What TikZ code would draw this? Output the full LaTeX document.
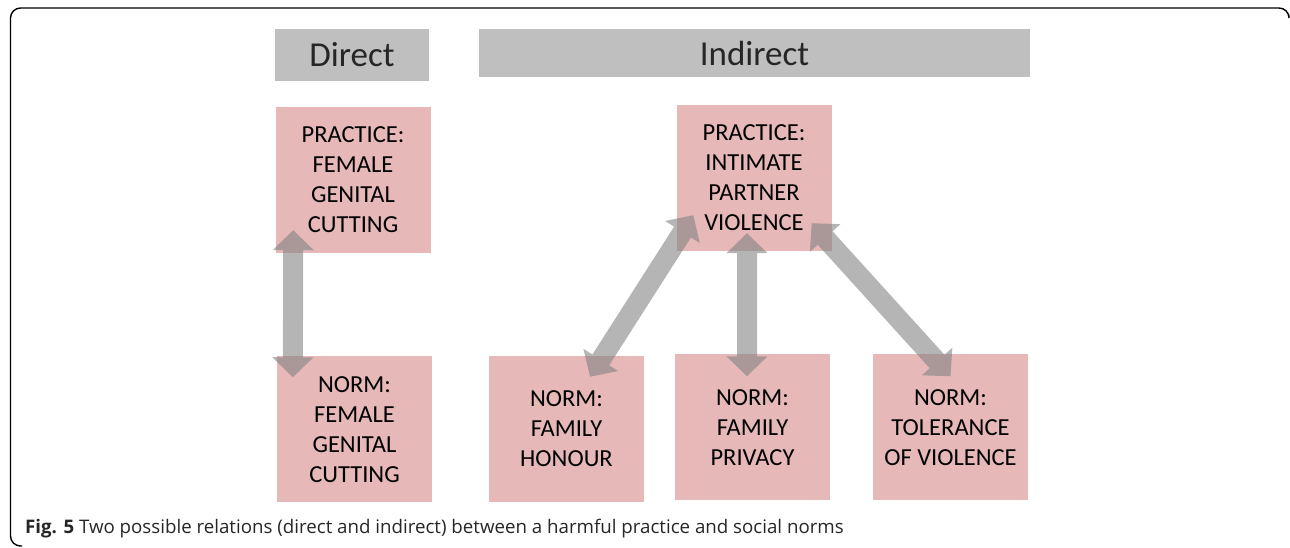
\documentclass[tikz,border=0pt]{standalone}
\usepackage{fontspec}
\setmainfont{Carlito}
\newfontfamily\capfont{Open Sans}
\usetikzlibrary{arrows.meta}

\definecolor{box pink}{HTML}{E6B9B8}
\definecolor{head gray}{HTML}{BFBFBF}
\colorlet{link gray}{gray}
\def\boxfont{\fontsize{24.5}{30}\selectfont}
\def\headfont{\fontsize{35}{40}\selectfont}
\tikzset{header/.style={fill=head gray, text=black!85, inner sep=0pt, font=\headfont},
    normbox/.style={fill=box pink, inner sep=0pt, align=center, font=\boxfont,
        minimum width=155pt, minimum height=146pt},
    link/.style={draw=link gray, line width=20pt,
        {Triangle[width=40pt,length=20pt]}-{Triangle[width=40pt,length=20pt]}}}

\begin{document}
\begin{tikzpicture}[x=1pt,y=1pt]
    \useasboundingbox (0,0) rectangle (1290,548);
    % frame
    \draw[line width=1.4pt, rounded corners=10pt] (22,2) -- (10.5,2) -- (10.5,540) -- (1289,540) -- (1289,533);

    % headers
    \node[header, minimum width=154pt, minimum height=52pt] (hdir) at (352,493) {Direct};
    \node[header, minimum width=551pt, minimum height=48pt] (hind) at (754.5,495) {Indirect};

    % boxes
    \node[normbox] (pfgc) at (353,368) {PRACTICE:\\FEMALE\\GENITAL\\CUTTING};
    \node[normbox] (nfgc) at (354.5,118.5) {NORM:\\FEMALE\\GENITAL\\CUTTING};
    \node[normbox] (pipv) at (754,370) {PRACTICE:\\INTIMATE\\PARTNER\\VIOLENCE};
    \node[normbox] (nhon) at (566.5,119) {NORM:\\FAMILY\\HONOUR};
    \node[normbox] (npri) at (752.5,120.5) {NORM:\\FAMILY\\PRIVACY};
    \node[normbox] (ntol) at (950.5,120.5) {NORM:\\TOLERANCE\\OF VIOLENCE};

    % link ends
    \coordinate (pfgc-in) at ([shift={(18,23)}]pfgc.south west);
    \coordinate (nfgc-in) at ([shift={(16,-21)}]nfgc.north west);
    \coordinate (pipv-l) at ([shift={(17,36)}]pipv.south west);
    \coordinate (pipv-m) at ([shift={(-7,18)}]pipv.south);
    \coordinate (pipv-r) at ([shift={(-20,28)}]pipv.south east);
    \coordinate (nhon-in) at ([shift={(23.5,-21)}]nhon.north);
    \coordinate (npri-in) at ([shift={(-5.5,-22)}]npri.north);
    \coordinate (ntol-in) at ([shift={(0,-22)}]ntol.north);

    % links
    \foreach \from/\to in {pfgc-in/nfgc-in, pipv-l/nhon-in, pipv-m/npri-in, pipv-r/ntol-in}
    {
        \begin{scope}[transparency group, opacity=0.58]
            \draw[link] (\from) -- (\to);
        \end{scope}
    }

    % caption
    \node[anchor=base west, inner sep=0pt, text=black!85] (caption) at (25,14)
        {\capfont\fontsize{18.7}{21}\selectfont\textbf{Fig. 5} Two possible relations (direct and indirect) between a harmful practice and social norms};
\end{tikzpicture}
\end{document}
